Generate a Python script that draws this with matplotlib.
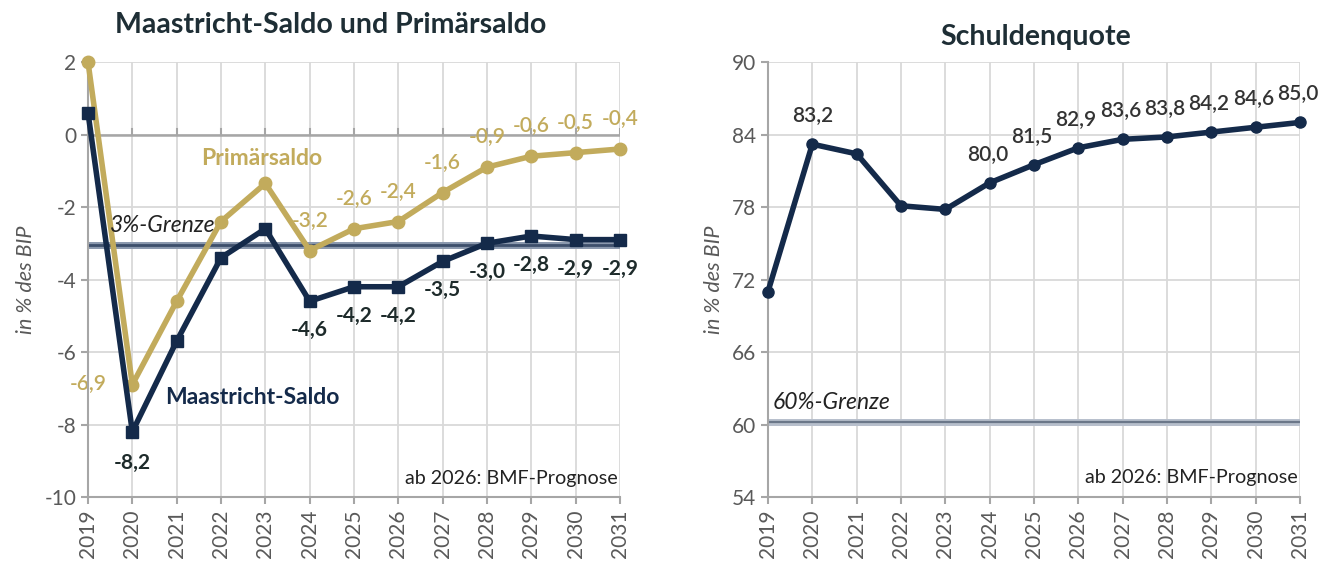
import matplotlib.pyplot as plt
import numpy as np

plt.rcParams['font.family'] = ['Lato', 'DejaVu Sans']
plt.rcParams['axes.unicode_minus'] = False

years = list(range(2019, 2032))
maastricht = [0.6, -8.2, -5.7, -3.4, -2.6, -4.6, -4.2, -4.2, -3.5, -3.0, -2.8, -2.9, -2.9]
primaer = [2.0, -6.9, -4.6, -2.4, -1.35, -3.2, -2.6, -2.4, -1.6, -0.9, -0.6, -0.5, -0.4]
schulden = [71.0, 83.2, 82.4, 78.1, 77.8, 80.0, 81.5, 82.9, 83.6, 83.8, 84.2, 84.6, 85.0]
grenze3 = -3.05
grenze60 = 60.2

navy = '#142a4a'
gold = '#c2ab5c'
grid_c = '#d9d9d9'
axis_c = '#a6a6a6'
tick_c = '#595959'
label_c = '#1e2b2b'

fig = plt.figure(figsize=(13.35, 5.63), dpi=100)
ax1 = fig.add_axes([88/1335, 1-497/563, 532/1335, 435/563])
ax2 = fig.add_axes([768/1335, 1-497/563, 532/1335, 435/563])

def style(ax):
    ax.set_xlim(2019, 2031)
    ax.set_xticks(years)
    ax.set_xticklabels([str(y) for y in years], rotation=90, fontsize=14.5, color=tick_c)
    ax.grid(True, color=grid_c, lw=1.3, zorder=0)
    ax.set_axisbelow(True)
    for s in ['top', 'right']:
        ax.spines[s].set_visible(False)
    for s in ['left', 'bottom']:
        ax.spines[s].set_color(axis_c)
        ax.spines[s].set_linewidth(1.5)
    ax.tick_params(axis='both', colors=axis_c, length=5, width=1.5, labelsize=15)
    ax.tick_params(axis='y', labelcolor=tick_c)
    ax.tick_params(axis='x', labelcolor=tick_c, pad=4)
    ax.set_ylabel('in % des BIP', fontsize=15.5, style='italic', color=tick_c, labelpad=6)

def fmt(v):
    return ('%.1f' % v).replace('.', ',')

# left chart
style(ax1)
ax1.set_ylim(-10, 2)
ax1.set_yticks(range(-10, 3, 2))
ax1.axhline(0, color=axis_c, lw=1.8, zorder=1)
for y in years:
    ax1.plot([y, y], [0, 0.15], color=axis_c, lw=1.5, zorder=1)
ax1.axhline(grenze3, color='#8a98ad', lw=5, zorder=2)
ax1.axhline(grenze3, color='#3d4f6b', lw=2, zorder=2)
ax1.plot(years, primaer, color=gold, lw=4, marker='o', ms=9, zorder=3, clip_on=False)
ax1.plot(years, maastricht, color=navy, lw=4, marker='s', ms=9, zorder=4, clip_on=False)

gold_kw = dict(fontsize=15, fontweight='semibold', color=gold, ha='center', va='center')
dark_kw = dict(fontsize=15, fontweight='bold', color=label_c, ha='center', va='center')
ax1.text(2019.0, primaer[1] + 0.05, fmt(primaer[1]), zorder=1, **gold_kw)
ax1.text(2020, maastricht[1] - 0.85, fmt(maastricht[1]), **dark_kw)
ax1.text(2024, primaer[5] + 0.85, fmt(primaer[5]), **gold_kw)
for i in range(6, 13):
    ax1.text(years[i], primaer[i] + 0.85, fmt(primaer[i]), **gold_kw)
for i in range(5, 13):
    ax1.text(years[i], maastricht[i] - 0.8, fmt(maastricht[i]), **dark_kw)

ax1.text(2019.5, -2.5, '3%-Grenze', style='italic', fontsize=16.5, color='#222222', va='center')
ax1.text(2021.55, -0.65, 'Primärsaldo', fontweight='bold', fontsize=16.5, color=gold, va='center')
ax1.text(2020.75, -7.25, 'Maastricht-Saldo', fontweight='bold', fontsize=16.5, color=navy, va='center')
ax1.text(2030.95, -9.5, 'ab 2026: BMF-Prognose', fontsize=14.2, color='#222222', ha='right', va='center')
fig.text(331/1335, 1-25/563, 'Maastricht-Saldo und Primärsaldo', fontsize=20.5, fontweight='bold',
         color='#1e2e35', ha='center', va='center')

# right chart
style(ax2)
ax2.set_ylim(54, 90)
ax2.set_yticks(range(54, 91, 6))
ax2.axhline(grenze60, color='#b7bfcc', lw=5, zorder=2)
ax2.axhline(grenze60, color='#6b7789', lw=1.6, zorder=2)
ax2.plot(years, schulden, color=navy, lw=4, marker='o', ms=8, zorder=4, clip_on=False)
sq_kw = dict(dark_kw, color='#333333', fontweight='semibold')
ax2.text(2020, schulden[1] + 2.4, fmt(schulden[1]), **sq_kw)
for i in range(5, 13):
    ax2.text(years[i] - 0.05, schulden[i] + 2.4, fmt(schulden[i]), **sq_kw)
ax2.text(2019.1, 61.8, '60%-Grenze', style='italic', fontsize=16.5, color='#222222', va='center')
ax2.text(2030.95, 55.6, 'ab 2026: BMF-Prognose', fontsize=14.2, color='#222222', ha='right', va='center')
fig.text(1036/1335, 1-37/563, 'Schuldenquote', fontsize=20.5, fontweight='bold',
         color='#1e2e35', ha='center', va='center')

fig.savefig('out.png', dpi=100)
